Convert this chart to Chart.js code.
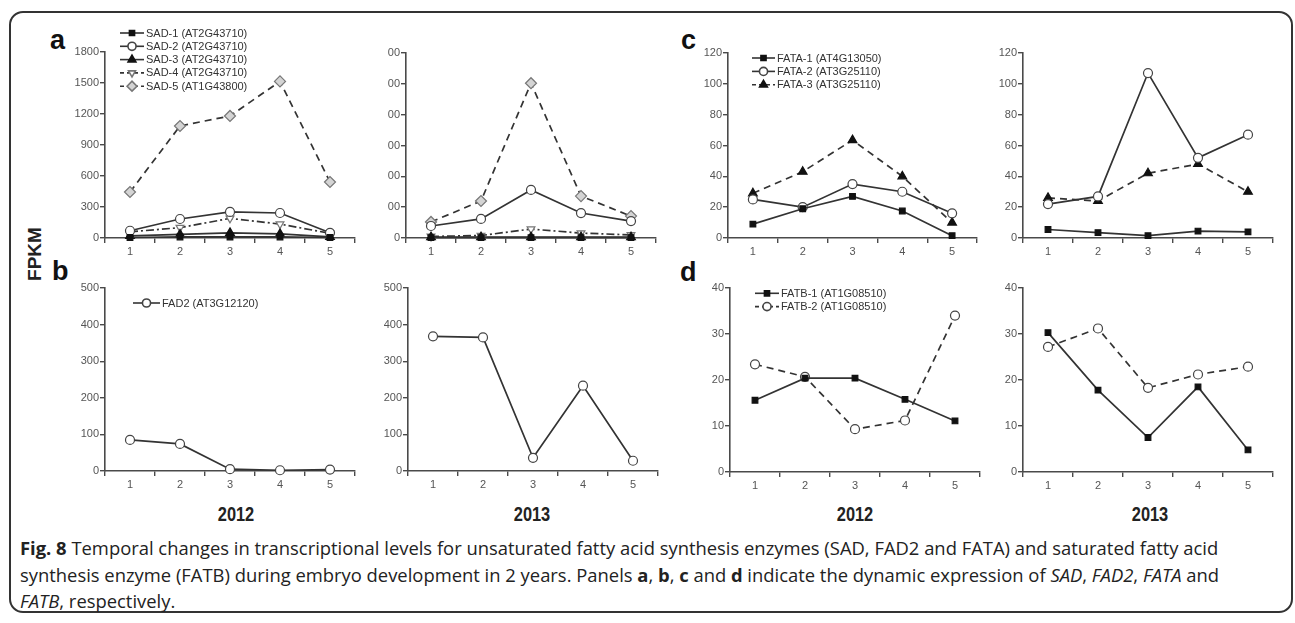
<!DOCTYPE html>
<html lang="en">
<head>
<meta charset="UTF-8" />
<title>Fig. 8 FPKM</title>
<script src="https://cdn.jsdelivr.net/npm/chart.js"></script>
<style>
  body {
    margin: 0;
    width: 1295px;
    height: 623px;
    background: #fff;
    position: relative;
    overflow: hidden;
    font-family: "Liberation Sans", Arial, sans-serif;
  }
  .frame {
    position: absolute;
    left: 9px;
    top: 11px;
    width: 1284px;
    height: 602px;
    border: 2px solid #333;
    border-radius: 14px;
    box-sizing: border-box;
  }
  canvas { position: absolute; }
  .letter {
    position: absolute;
    font-weight: bold;
    font-size: 27px;
    line-height: 27px;
    color: #111;
  }
  .year {
    position: absolute;
    top: 503px;
    font-weight: bold;
    font-size: 20px;
    line-height: 22px;
    color: #222;
    transform: translateX(-50%) scaleX(0.82);
  }
  .ylab {
    position: absolute;
    left: 35px;
    top: 254px;
    font-weight: bold;
    font-size: 19px;
    color: #222;
    transform: translate(-50%, -50%) rotate(-90deg);
  }
  .caption {
    position: absolute;
    left: 20px;
    top: 535px;
    width: 1265px;
    font-family: "Open Sans", sans-serif;
    font-size: 18.4px;
    line-height: 26.5px;
    color: #222;
    white-space: nowrap;
  }
</style>
</head>
<body>
<div class="frame"></div>
<div class="letter" style="left:50px;top:27px">a</div>
<div class="letter" style="left:52px;top:258px">b</div>
<div class="letter" style="left:681px;top:27px">c</div>
<div class="letter" style="left:680px;top:259px">d</div>
<div class="ylab">FPKM</div>
<div class="year" style="left:236px">2012</div>
<div class="year" style="left:532px">2013</div>
<div class="year" style="left:855px">2012</div>
<div class="year" style="left:1150px">2013</div>
<div class="caption"><b>Fig. 8</b> Temporal changes in transcriptional levels for unsaturated fatty acid synthesis enzymes (SAD, FAD2 and FATA) and saturated fatty acid<br>synthesis enzyme (FATB) during embryo development in 2 years. Panels <b>a</b>, <b>b</b>, <b>c</b> and <b>d</b> indicate the dynamic expression of <i>SAD</i>, <i>FAD2</i>, <i>FATA</i> and<br><i>FATB</i>, respectively.</div>

<script>
  // developmental stages on every x axis
  const STAGES = ["1", "2", "3", "4", "5"];

  // panel a: SAD genes
  const SAD1_2012 = [5, 10, 10, 10, 5];
  const SAD2_2012 = [70, 184, 252, 242, 50];
  const SAD3_2012 = [20, 35, 50, 40, 10];
  const SAD4_2012 = [60, 100, 190, 135, 45];
  const SAD5_2012 = [445, 1084, 1181, 1515, 542];
  const SAD1_2013 = [1, 1, 1, 1, 1];
  const SAD2_2013 = [39, 62, 156, 81, 55];
  const SAD3_2013 = [3, 3, 3, 3, 3];
  const SAD4_2013 = [5, 8, 29, 16, 10];
  const SAD5_2013 = [52, 120, 502, 136, 71];
  // the 2013 panel's tick labels are cut off in the figure
  const SAD_2013_TICKS = ["0", "00", "00", "00", "00", "00", "00"];

  // panel b: FAD2
  const FAD2_2012 = [85, 74, 5, 2, 4];
  const FAD2_2013 = [368, 365, 36, 233, 28];

  // panel c: FATA genes
  const FATA1_2012 = [9, 19, 27, 17.5, 1.5];
  const FATA2_2012 = [25, 20, 35, 30, 16];
  const FATA3_2012 = [29, 43, 63.5, 40, 10];
  const FATA1_2013 = [5.5, 3.5, 1.5, 4.5, 4];
  const FATA2_2013 = [22, 27, 107, 52, 67];
  const FATA3_2013 = [26, 24, 42, 48, 30];

  // panel d: FATB genes
  const FATB1_2012 = [15.6, 20.4, 20.4, 15.8, 11.1];
  const FATB2_2012 = [23.4, 20.7, 9.3, 11.2, 34];
  const FATB1_2013 = [30.3, 17.8, 7.5, 18.5, 4.8];
  const FATB2_2013 = [27.2, 31.2, 18.3, 21.2, 22.9];

  const AXIS = "#4a4a4a";
  const TICK = "#555";
  const LINE = "#333";

  // marker / line look of each gene
  const STYLE = {
    "SAD-1 (AT2G43710)": { marker: "rect", r: 4, fill: "#111", stroke: "#111", dash: [] },
    "SAD-2 (AT2G43710)": { marker: "circle", r: 4.5, fill: "#fff", stroke: "#444", dash: [] },
    "SAD-3 (AT2G43710)": { marker: "triangle", r: 5, fill: "#111", stroke: "#111", dash: [] },
    "SAD-4 (AT2G43710)": { marker: "triangle", rot: 180, r: 4.5, fill: "#fff", stroke: "#777", dash: [8, 3, 2, 3] },
    "SAD-5 (AT1G43800)": { marker: "rectRot", r: 5.5, fill: "#d4d4d4", stroke: "#777", dash: [7, 5] },
    "FAD2 (AT3G12120)": { marker: "circle", r: 4.5, fill: "#fff", stroke: "#444", dash: [] },
    "FATA-1 (AT4G13050)": { marker: "rect", r: 4, fill: "#111", stroke: "#111", dash: [] },
    "FATA-2 (AT3G25110)": { marker: "circle", r: 4.5, fill: "#fff", stroke: "#444", dash: [] },
    "FATA-3 (AT3G25110)": { marker: "triangle", r: 5, fill: "#111", stroke: "#111", dash: [7, 5] },
    "FATB-1 (AT1G08510)": { marker: "rect", r: 4, fill: "#111", stroke: "#111", dash: [] },
    "FATB-2 (AT1G08510)": { marker: "circle", r: 4.5, fill: "#fff", stroke: "#444", dash: [7, 5] },
  };

  function lineDataset(name, values) {
    const s = STYLE[name];
    return {
      label: name,
      data: values,
      borderColor: LINE,
      borderWidth: 1.7,
      borderDash: s.dash,
      pointStyle: s.marker,
      pointRotation: s.rot || 0,
      pointRadius: s.r,
      pointBackgroundColor: s.fill,
      pointBorderColor: s.stroke,
      pointBorderWidth: 1.2,
      tension: 0,
      fill: false,
      clip: false,
    };
  }

  // legend drawn as in the figure: short line with the marker on it, then the text
  const keyLegend = {
    id: "keyLegend",
    afterDraw(chart, args, opts) {
      if (!opts || !opts.show) return;
      const ctx = chart.ctx;
      ctx.save();
      chart.data.datasets.forEach((ds, i) => {
        const y = opts.y + i * opts.row;
        ctx.strokeStyle = LINE;
        ctx.lineWidth = 1.6;
        ctx.setLineDash(ds.borderDash.length ? [4, 3] : []);
        ctx.beginPath();
        ctx.moveTo(opts.x, y);
        ctx.lineTo(opts.x + opts.len, y);
        ctx.stroke();
        ctx.setLineDash([]);
        ctx.fillStyle = ds.pointBackgroundColor;
        ctx.strokeStyle = ds.pointBorderColor;
        Chart.helpers.drawPoint(ctx, {
          pointStyle: ds.pointStyle,
          rotation: ds.pointRotation,
          radius: ds.pointRadius * 0.9,
          borderWidth: 1.1,
        }, opts.x + opts.len / 2, y);
        ctx.fillStyle = "#333";
        ctx.font = "11px 'Liberation Sans', Arial, sans-serif";
        ctx.textBaseline = "middle";
        ctx.fillText(ds.label, opts.x + opts.len + 2, y + 0.5);
      });
      ctx.restore();
    },
  };

  function makePanel(p) {
    const [x0, y0, x1, y1] = p.area;
    const padL = 70, padT = 30, padR = 12, padB = 30;
    const w = x1 - x0 + padL + padR;
    const h = y1 - y0 + padT + padB;
    const left = x0 - padL, top = y0 - padT;
    const cv = document.createElement("canvas");
    cv.width = w;
    cv.height = h;
    cv.style.left = left + "px";
    cv.style.top = top + "px";
    cv.style.width = w + "px";
    cv.style.height = h + "px";
    document.body.appendChild(cv);

    const legendOpts = p.legend
      ? { show: true, x: p.legend.x - left, y: p.legend.y - top, row: p.legend.row || 13.3, len: p.legend.len }
      : { show: false };

    new Chart(cv, {
      type: "line",
      data: {
        labels: STAGES,
        datasets: p.series.map(([name, values]) => lineDataset(name, values)),
      },
      options: {
        responsive: false,
        animation: false,
        devicePixelRatio: 1,
        layout: { padding: { left: 0, top: padT, right: padR, bottom: 0 } },
        plugins: {
          legend: { display: false },
          tooltip: { enabled: false },
          keyLegend: legendOpts,
        },
        scales: {
          x: {
            offset: true,
            grid: { offset: true, drawOnChartArea: false, tickLength: 5, color: AXIS, lineWidth: 1.4 },
            border: { color: AXIS, width: 1.6 },
            ticks: { color: TICK, font: { size: 11, family: "'Liberation Sans', Arial" }, padding: 2, maxRotation: 0 },
            afterFit: (s) => { s.height = padB; },
          },
          y: {
            min: 0,
            max: p.yMax,
            grid: { drawOnChartArea: false, tickLength: 5, color: AXIS, lineWidth: 1.4 },
            border: { color: AXIS, width: 1.6 },
            ticks: {
              stepSize: p.yStep,
              color: TICK,
              padding: 1,
              font: { size: 11, family: "'Liberation Sans', Arial" },
              callback: p.yTicks ? (v, i) => p.yTicks[i] : (v) => v,
            },
            afterFit: (s) => { s.width = padL; },
          },
        },
      },
      plugins: [keyLegend],
    });
  }

  const PANELS = [
    {
      area: [105, 52, 355, 238], yMax: 1800, yStep: 300,
      legend: { x: 120, y: 33, len: 24 },
      series: [
        ["SAD-1 (AT2G43710)", SAD1_2012], ["SAD-2 (AT2G43710)", SAD2_2012],
        ["SAD-3 (AT2G43710)", SAD3_2012], ["SAD-4 (AT2G43710)", SAD4_2012],
        ["SAD-5 (AT1G43800)", SAD5_2012],
      ],
    },
    {
      area: [406, 53, 656, 238], yMax: 600, yStep: 100, yTicks: SAD_2013_TICKS,
      series: [
        ["SAD-1 (AT2G43710)", SAD1_2013], ["SAD-2 (AT2G43710)", SAD2_2013],
        ["SAD-3 (AT2G43710)", SAD3_2013], ["SAD-4 (AT2G43710)", SAD4_2013],
        ["SAD-5 (AT1G43800)", SAD5_2013],
      ],
    },
    {
      area: [728, 53, 977, 238], yMax: 120, yStep: 20,
      legend: { x: 752, y: 58, len: 23, row: 13.4 },
      series: [
        ["FATA-1 (AT4G13050)", FATA1_2012], ["FATA-2 (AT3G25110)", FATA2_2012],
        ["FATA-3 (AT3G25110)", FATA3_2012],
      ],
    },
    {
      area: [1023, 53, 1273, 238], yMax: 120, yStep: 20,
      series: [
        ["FATA-1 (AT4G13050)", FATA1_2013], ["FATA-2 (AT3G25110)", FATA2_2013],
        ["FATA-3 (AT3G25110)", FATA3_2013],
      ],
    },
    {
      area: [105, 288, 355, 471], yMax: 500, yStep: 100,
      legend: { x: 133, y: 303, len: 27 },
      series: [["FAD2 (AT3G12120)", FAD2_2012]],
    },
    {
      area: [408, 288, 658, 471], yMax: 500, yStep: 100,
      series: [["FAD2 (AT3G12120)", FAD2_2013]],
    },
    {
      area: [730, 288, 980, 472], yMax: 40, yStep: 10,
      legend: { x: 755, y: 293.3, len: 24 },
      series: [["FATB-1 (AT1G08510)", FATB1_2012], ["FATB-2 (AT1G08510)", FATB2_2012]],
    },
    {
      area: [1023, 288, 1273, 472], yMax: 40, yStep: 10,
      series: [["FATB-1 (AT1G08510)", FATB1_2013], ["FATB-2 (AT1G08510)", FATB2_2013]],
    },
  ];

  PANELS.forEach(makePanel);
</script>
</body>
</html>
